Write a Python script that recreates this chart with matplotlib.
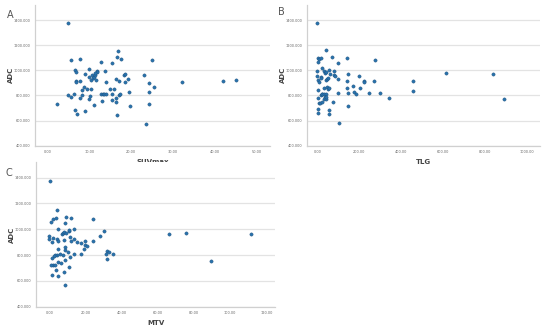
import matplotlib
matplotlib.use("Agg")
import matplotlib.pyplot as plt
from matplotlib.ticker import FormatStrFormatter

# Panel A: SUVmax vs ADC
suv = [4.8, 2.2, 5.6, 7.7, 4.9, 5.6, 6.4, 6.5, 6.8, 6.7, 6.8, 6.5, 7.0, 7.8, 7.8, 8.3, 8.2, 8.7,
       8.9, 9.0, 9.4, 9.9, 9.9, 9.9, 10.2, 10.3, 10.4, 10.6, 10.8, 11.1, 11.4, 11.0, 11.7, 11.8,
       11.9, 11.4, 12.8, 12.7, 13.2, 13.5, 13.9, 13.1, 13.7, 14.0, 15.0, 15.3, 15.5, 15.3, 15.9,
       16.3, 16.4, 16.5, 16.3, 16.6, 16.9, 17.1, 17.1, 17.4, 17.6, 18.2, 18.5, 18.5, 19.3, 19.4,
       19.8, 23.1, 23.6, 24.3, 24.2, 24.2, 25.1, 25.4, 32.1, 41.9, 45.0]
adc_a = [1376, 729, 1082, 1090, 800, 785, 814, 1002, 989, 917, 907, 686, 655, 917, 777, 803, 840, 870,
         679, 973, 852, 1010, 946, 771, 793, 852, 923, 965, 936, 949, 962, 726, 923, 994,
         986, 981, 1063, 811, 811, 811, 811, 753, 997, 909, 852, 808, 763, 1055, 848,
         777, 933, 1103, 745, 644, 1156, 917, 803, 811, 1093, 965, 973, 909, 933, 830,
         713, 965, 570, 899, 824, 732, 1082, 870, 909, 915, 923]

# Panel B: TLG vs ADC
tlg = [0, 5, 10, 16, 6, 44, 71, 97, 140, 276, 0, 0, 6, 10, 16, 19, 25, 33, 37, 44, 40, 46, 51, 54,
       62, 81, 81, 86, 100, 146, 144, 198, 221, 224, 268, 5, 6, 2, 2, 8, 14, 17, 22, 30, 25, 33,
       40, 37, 30, 41, 44, 48, 49, 56, 54, 56, 22, 73, 98, 140, 146, 147, 170, 173, 184, 202,
       246, 300, 340, 106, 454, 457, 611, 835, 887]
adc_b = [1376, 1098, 1090, 1095, 1063, 1159, 1103, 1058, 1098, 1084, 997, 954, 923, 909, 944, 936,
         1015, 997, 976, 989, 923, 931, 941, 1005, 970, 997, 960, 954, 931, 968, 915, 952, 915,
         904, 915, 843, 782, 689, 657, 737, 737, 803, 808, 857, 811, 808, 808, 790, 771, 771,
         784, 864, 851, 857, 684, 649, 745, 748, 816, 857, 816, 718, 875, 830, 814, 857, 816,
         816, 779, 578, 917, 838, 976, 970, 769]

# Panel C: MTV vs ADC
mtv = [0.7, 4.2, 0.9, 2.2, 3.9, 9.2, 11.8, 8.6, 24.3, 0.0, 0.0, 2.2, 1.5, 4.8, 4.4, 4.9, 6.8, 7.5,
       8.3, 9.2, 8.1, 10.7, 11.2, 11.4, 11.8, 13.6, 13.6, 15.5, 17.5, 19.5, 19.9, 20.6, 24.3,
       28.2, 30.2, 19.1, 4.9, 8.8, 8.8, 10.5, 7.7, 6.1, 4.4, 3.1, 2.6, 1.8, 4.9, 6.6, 2.2, 1.1,
       3.1, 11.4, 13.6, 17.5, 8.8, 10.9, 8.1, 3.5, 1.7, 4.6, 8.5, 31.7, 32.9, 31.3, 32.0, 35.3,
       66.1, 75.6, 89.5, 111.7]
adc_c = [1374, 1152, 1059, 1080, 1085, 1098, 1090, 1051, 1080, 950, 922, 935, 899, 1005, 922, 909,
         961, 969, 981, 969, 917, 984, 992, 943, 909, 1000, 925, 904, 896, 909, 878, 868, 906,
         945, 987, 850, 850, 863, 839, 821, 798, 811, 803, 798, 790, 775, 749, 736, 726, 726,
         726, 785, 808, 806, 762, 710, 671, 682, 648, 638, 565, 829, 824, 806, 770, 808,
         963, 968, 757, 961]

y_ticks = [400, 600, 800, 1000, 1200, 1400]
panels = [
    dict(x=suv, y=adc_a, xlabel="SUVmax", letter="A", xticks=[0, 10, 20, 30, 40, 50],
         xlim=(-3.0, 53.2), rect=[35/550, 1-145.7/332, 235/550, 140.7/332], letter_xy=(10, 15)),
    dict(x=tlg, y=adc_b, xlabel="TLG", letter="B", xticks=[0, 200, 400, 600, 800, 1000],
         xlim=(-50, 1060), rect=[306.7/550, 1-145.7/332, 233.3/550, 140.7/332], letter_xy=(281, 12)),
    dict(x=mtv, y=adc_c, xlabel="MTV", letter="C", xticks=[0, 20, 40, 60, 80, 100, 120],
         xlim=(-7.3, 124.7), rect=[36/550, 1-306.7/332, 239/550, 144.5/332], letter_xy=(9, 173)),
]

fig = plt.figure(figsize=(5.5, 3.32), dpi=100)
fig.patch.set_facecolor("white")

for p in panels:
    ax = fig.add_axes(p["rect"])
    ax.set_axisbelow(True)
    ax.grid(axis="y", color="#e3e3e3", linewidth=0.9)
    ax.scatter(p["x"], p["y"], s=5.5, color="#2a73ad", edgecolors="#1b4f7a",
               linewidths=0.3, zorder=3)
    ax.set_xlim(*p["xlim"])
    ax.set_ylim(400, 1520)
    ax.set_xticks(p["xticks"])
    ax.set_yticks(y_ticks)
    ax.xaxis.set_major_formatter(FormatStrFormatter("%.2f"))
    ax.yaxis.set_major_formatter(FormatStrFormatter("%.3f"))
    ax.tick_params(axis="both", labelsize=2.5, length=0, colors="#666666", pad=3)
    for s in ["top", "right"]:
        ax.spines[s].set_visible(False)
    for s in ["left", "bottom"]:
        ax.spines[s].set_color("#d0d0d0")
        ax.spines[s].set_linewidth(0.9)
    ax.set_xlabel(p["xlabel"], fontsize=5, color="#444444", fontweight="bold", labelpad=4)
    ax.set_ylabel("ADC", fontsize=5, color="#444444", fontweight="bold", labelpad=0)
    lx, ly = p["letter_xy"]
    fig.text(lx/550, 1-ly/332, p["letter"], fontsize=7, color="#555555",
             ha="center", va="center")

fig.savefig("out.png", dpi=100, facecolor="white")
